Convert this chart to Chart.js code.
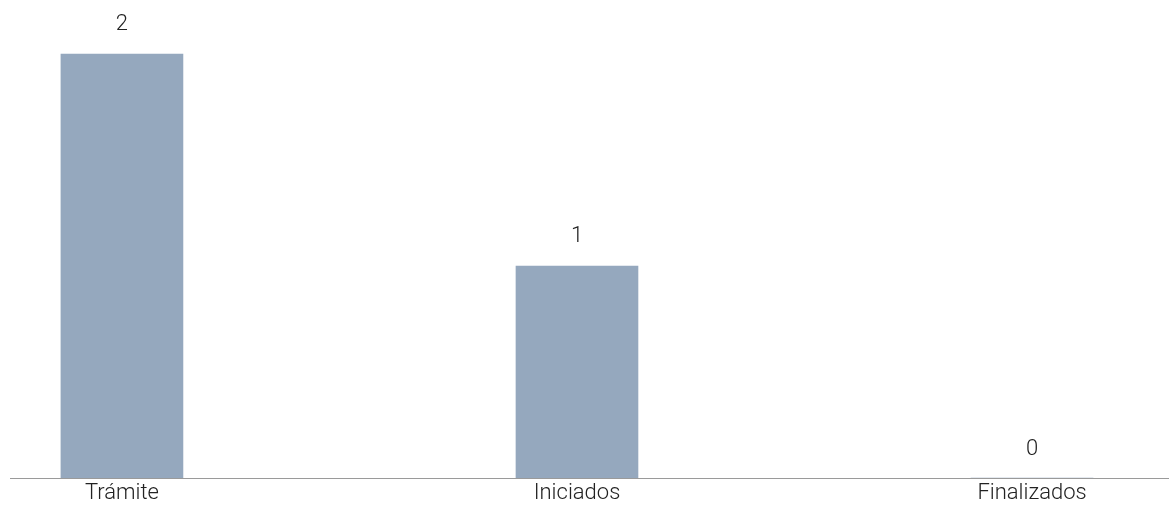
<!DOCTYPE html>
<html>
<head>
<meta charset="utf-8">
<script src="https://cdn.jsdelivr.net/npm/chart.js@4/dist/chart.umd.min.js"></script>
<style>
  html, body { margin: 0; padding: 0; background: #fff; }
  #wrap { width: 1169px; height: 512px; position: relative; }
</style>
</head>
<body>
<div id="wrap"><canvas id="c"></canvas></div>
<script>
const categories = ['Trámite', 'Iniciados', 'Finalizados'];
const values = [2, 1, 0];

const FONT = '"Roboto", "Helvetica Neue", Arial, sans-serif';

// Value labels drawn above each bar
const valueLabels = {
  id: 'valueLabels',
  afterDatasetsDraw(chart) {
    const ctx = chart.ctx;
    const meta = chart.getDatasetMeta(0);
    ctx.save();
    ctx.font = '300 22px ' + FONT;
    ctx.fillStyle = '#222222';
    ctx.textAlign = 'center';
    ctx.textBaseline = 'middle';
    meta.data.forEach((bar, i) => {
      ctx.fillText(String(values[i]), bar.x, bar.y - 29);
    });
    ctx.restore();
  }
};

new Chart(document.getElementById('c'), {
  type: 'bar',
  data: {
    datasets: [{
      data: values.map((v, i) => ({ x: i, y: v })),
      backgroundColor: '#95a8be',
      borderWidth: 0,
      barThickness: 122
    }]
  },
  options: {
    responsive: true,
    maintainAspectRatio: false,
    animation: false,
    layout: { padding: { left: 10, right: 0, top: 0, bottom: 0 } },
    plugins: { legend: { display: false }, tooltip: { enabled: false } },
    scales: {
      x: {
        type: 'linear',
        offset: false,
        min: -0.246,
        max: 2.301,
        afterBuildTicks(scale) {
          scale.ticks = categories.map((_, i) => ({ value: i }));
        },
        afterFit(scale) { scale.height = 34; },
        grid: { display: false, drawTicks: false },
        border: { display: true, color: '#9a9a9a', width: 1 },
        ticks: {
          padding: 2,
          maxRotation: 0,
          autoSkip: false,
          color: '#222222',
          font: { family: FONT, size: 22, weight: '300' },
          callback: (v) => categories[v]
        }
      },
      y: {
        display: false,
        min: 0,
        max: 2.2547
      }
    }
  },
  plugins: [valueLabels]
});
</script>
</body>
</html>
